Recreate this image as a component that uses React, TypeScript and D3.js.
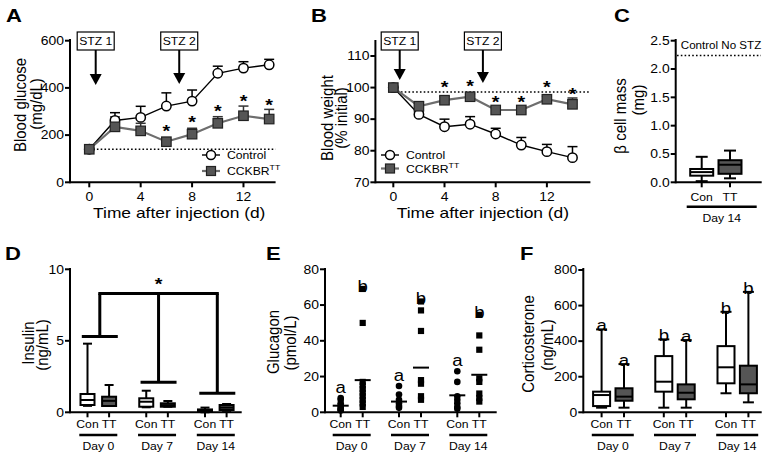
import React from 'react';
import * as d3 from 'd3';

const FONT = "'Liberation Sans', Arial, Helvetica, sans-serif";
const SX = 1.16;

// ---------- Panel A: blood glucose ----------
const days = [0, 2, 4, 6, 8, 10, 12, 14];
const dayTicks = [0, 4, 8, 12];
const glucoseControl = [140, 262, 275, 323, 344, 462, 484, 498];
const glucoseControlErr = [0, 33, 47, 56, 47, 30, 27, 23];
const glucoseTT = [140, 235, 218, 172, 204, 250, 282, 268];
const glucoseTTErr = [0, 42, 32, 10, 25, 28, 41, 41];
const glucoseStarDays = [6, 8, 10, 12, 14];
const glucoseStarValues = [235, 271, 318, 360, 344];
const glucoseBaseline = 140;
const glucoseTicks = [0, 200, 400, 600];

// ---------- Panel B: body weight ----------
const weightControl = [100, 91.5, 87.6, 88.4, 85.3, 81.8, 79.7, 77.8];
const weightControlErr = [0, 0.8, 2.4, 2.4, 1.8, 2.4, 2.3, 3.5];
const weightTT = [100, 94.1, 96.0, 97.1, 92.9, 92.9, 96.3, 94.7];
const weightTTErr = [0, 0.9, 1.2, 0.9, 0.9, 0.9, 0.9, 2.0];
const weightStarDays = [4, 6, 8, 10, 12, 14];
const weightStarValues = [101.3, 101.8, 96.6, 96.6, 101.3, 99.2];
const weightBaseline = 98.6;
const weightTicks = [70, 80, 90, 100, 110];

const stzDays = [0.5, 7];
const stzLabels = ['STZ 1', 'STZ 2'];

// ---------- Panel C: beta cell mass ----------
const genotypes = ['Con', 'TT'];
const betaCellBoxes = [
  [0.02, 0.117, 0.18, 0.235, 0.45],
  [0.07, 0.15, 0.31, 0.39, 0.56],
];
const betaCellTicks = [0, 0.5, 1.0, 1.5, 2.0, 2.5];
const betaCellNoSTZ = 2.24;

// ---------- Panel D: insulin ----------
const dayGroups = ['Day 0', 'Day 7', 'Day 14'];
const insulinCon = [
  [0.45, 0.51, 0.86, 1.28, 4.8],
  [0.35, 0.39, 0.74, 0.98, 1.51],
  [0.0, 0.03, 0.1, 0.2, 0.33],
];
const insulinTT = [
  [0.44, 0.44, 0.8, 1.09, 1.91],
  [0.39, 0.39, 0.5, 0.63, 0.79],
  [0.1, 0.16, 0.33, 0.51, 0.58],
];
const insulinTicks = [0, 5, 10];
const insulinBracketLevels = [5.3, 2.1, 1.33];
const insulinBracketTop = 8.3;
const insulinStarValue = 9.25;

// ---------- Panel E: glucagon ----------
const glucagonCon = [
  [8, 7, 5, 4, 3, 2, 1.5, 1],
  [14.7, 10, 7, 5, 3.5, 2.5],
  [23, 17, 9, 7, 5, 3, 2],
];
const glucagonTT = [
  [69, 50, 17, 15, 13, 11, 9, 7, 5, 3],
  [62, 57, 45.5, 18, 16, 9, 7],
  [54.5, 43, 35, 19, 17, 10.5, 8, 6],
];
const glucagonConMean = [3.7, 6, 9.5];
const glucagonTTMean = [18, 25, 21];
const glucagonConLetters = ['a', 'a', 'a'];
const glucagonTTLetters = ['b', 'b', 'b'];
const glucagonTicks = [0, 20, 40, 60, 80];

// ---------- Panel F: corticosterone ----------
const corticoCon = [
  [26, 35, 97, 116, 466],
  [26, 116, 172, 316, 410],
  [107, 163, 253, 372, 565],
];
const corticoTT = [
  [26, 65, 88, 135, 271],
  [26, 73, 110, 157, 406],
  [56, 107, 157, 262, 677],
];
const corticoConLetters = ['a', 'b', 'b'];
const corticoTTLetters = ['a', 'a', 'b'];
const corticoTicks = [0, 200, 400, 600, 800];

// ---------- helpers ----------
type TP = {
  x: number; y: number; size?: number; anchor?: string; weight?: any;
  rotate?: number; children?: React.ReactNode; fill?: string; dy?: string;
};
function T({ x, y, size = 12, anchor = 'middle', weight = 'normal', rotate, children, fill = '#000', dy }: TP) {
  const tr = `translate(${x},${y}) scale(${SX},1)${rotate ? ` rotate(${rotate})` : ''}`;
  return (
    <text transform={tr} fontSize={size} textAnchor={anchor as any} fontWeight={weight}
      fontFamily={FONT} fill={fill} dy={dy}>{children}</text>
  );
}

function YAxis({ scale, x, ticks, fmt, top }: any) {
  const y0 = scale.range()[0];
  return (
    <g>
      <line x1={x} x2={x} y1={y0 + 1} y2={top} stroke="#000" strokeWidth={2} />
      {ticks.map((t: number) => (
        <g key={t}>
          <line x1={x - 5} x2={x} y1={scale(t)} y2={scale(t)} stroke="#000" strokeWidth={2} />
          <T x={x - 6} y={scale(t) + 4.3} anchor="end" size={12}>{fmt(t)}</T>
        </g>
      ))}
    </g>
  );
}

function YTitle({ x1, x2, cy1, cy2, l1, l2 }: any) {
  return (
    <g>
      <T x={x1} y={cy1} rotate={-90} size={15} dy="0.35em">{l1}</T>
      <T x={x2} y={cy2} rotate={-90} size={15} dy="0.35em">{l2}</T>
    </g>
  );
}

function Star({ x, y }: any) {
  return <T x={x} y={y + 10} size={17} weight="bold">*</T>;
}

function Square({ x, y, s, fill, stroke, sw }: any) {
  return <rect x={x - s / 2} y={y - s / 2} width={s} height={s} fill={fill} stroke={stroke} strokeWidth={sw} />;
}

function LinePanel({ xs, ys, control, controlErr, tt, ttErr, starDays, starValues, baseline,
  ticks, fmt, yTop, stzTips, legend, titles, xTitleY }: any) {
  const y0 = ys.range()[0];
  const [xr0, xr1] = xs.range();
  const line = d3.line<number>().x((_, i) => xs(days[i])).y((d) => ys(d));
  return (
    <g>
      <line x1={xs(0)} x2={xr1} y1={ys(baseline)} y2={ys(baseline)} stroke="#000" strokeWidth={1.6} strokeDasharray="1.6,2.2" />
      <path d={line(control) || ''} fill="none" stroke="#000" strokeWidth={1.4} />
      <path d={line(tt) || ''} fill="none" stroke="#6e6e6e" strokeWidth={2.2} />
      {control.map((v: number, i: number) => controlErr[i] > 0 && (
        <g key={'ce' + i} stroke="#000" strokeWidth={1.5}>
          <line x1={xs(days[i])} x2={xs(days[i])} y1={ys(v)} y2={ys(v + controlErr[i])} />
          <line x1={xs(days[i]) - 5} x2={xs(days[i]) + 5} y1={ys(v + controlErr[i])} y2={ys(v + controlErr[i])} />
        </g>
      ))}
      {tt.map((v: number, i: number) => ttErr[i] > 0 && (
        <g key={'te' + i} stroke="#333" strokeWidth={1.5}>
          <line x1={xs(days[i])} x2={xs(days[i])} y1={ys(v)} y2={ys(v + ttErr[i])} />
          <line x1={xs(days[i]) - 5} x2={xs(days[i]) + 5} y1={ys(v + ttErr[i])} y2={ys(v + ttErr[i])} />
        </g>
      ))}
      {control.map((v: number, i: number) => (
        <circle key={'cm' + i} cx={xs(days[i])} cy={ys(v)} r={4.7} fill="#fff" stroke="#000" strokeWidth={1.5} />
      ))}
      {tt.map((v: number, i: number) => (
        <Square key={'tm' + i} x={xs(days[i])} y={ys(v)} s={9.5} fill="#555" stroke="#222" sw={1.2} />
      ))}
      {starDays.map((d: number, i: number) => <Star key={'s' + i} x={xs(d)} y={ys(starValues[i])} />)}
      <line x1={xr0} x2={xr1} y1={y0} y2={y0} stroke="#000" strokeWidth={2} />
      {dayTicks.map((t) => (
        <g key={'xt' + t}>
          <line x1={xs(t)} x2={xs(t)} y1={y0} y2={y0 + 5} stroke="#000" strokeWidth={2} />
          <T x={xs(t)} y={y0 + 18.7} size={12}>{t}</T>
        </g>
      ))}
      <YAxis scale={ys} x={xr0} ticks={ticks} fmt={fmt} top={yTop} />
      <T x={xs(7)} y={xTitleY} size={15}>Time after injection (d)</T>
      <YTitle {...titles} />
      {stzDays.map((d, i) => {
        const bx = xs(d);
        const tip = stzTips[i];
        return (
          <g key={'stz' + i}>
            <rect x={bx - 18.5} y={32} width={37} height={18} fill="#fff" stroke="#000" strokeWidth={1.2} />
            <T x={bx} y={45} size={10.5}>{stzLabels[i]}</T>
            <line x1={bx} x2={bx} y1={50} y2={tip - 9} stroke="#000" strokeWidth={2} />
            <path d={`M${bx - 6},${tip - 11}L${bx + 6},${tip - 11}L${bx},${tip}Z`} fill="#000" />
          </g>
        );
      })}
      <g>
        <line x1={legend.x - 9} x2={legend.x + 9} y1={legend.y1} y2={legend.y1} stroke="#000" strokeWidth={1.4} />
        <circle cx={legend.x} cy={legend.y1} r={4.5} fill="#fff" stroke="#000" strokeWidth={1.5} />
        <T x={legend.x + 16} y={legend.y1 + 4} anchor="start" size={10.5}>Control</T>
        <line x1={legend.x - 9} x2={legend.x + 9} y1={legend.y2} y2={legend.y2} stroke="#6e6e6e" strokeWidth={2.2} />
        <Square x={legend.x} y={legend.y2} s={9} fill="#555" stroke="#222" sw={1.2} />
        <T x={legend.x + 16} y={legend.y2 + 4} anchor="start" size={10.5}>
          <tspan>CCKBR</tspan><tspan dy={-5} fontSize={7.5}>TT</tspan>
        </T>
      </g>
    </g>
  );
}

function Box({ cx, ys, s, w, fill, capW }: any) {
  const [mn, q1, md, q3, mx] = s;
  return (
    <g stroke="#000" strokeWidth={2}>
      <line x1={cx} x2={cx} y1={ys(mx)} y2={ys(q3)} />
      <line x1={cx} x2={cx} y1={ys(q1)} y2={ys(mn)} />
      <line x1={cx - capW / 2} x2={cx + capW / 2} y1={ys(mx)} y2={ys(mx)} />
      <line x1={cx - capW / 2} x2={cx + capW / 2} y1={ys(mn)} y2={ys(mn)} />
      <rect x={cx - w / 2} y={ys(q3)} width={w} height={Math.max(ys(q1) - ys(q3), 1)} fill={fill} />
      <line x1={cx - w / 2} x2={cx + w / 2} y1={ys(md)} y2={ys(md)} />
    </g>
  );
}

function GroupAxis({ x0, x1, y0, positions }: any) {
  return (
    <g>
      <line x1={x0} x2={x1} y1={y0} y2={y0} stroke="#000" strokeWidth={2} />
      {positions.map((p: number, i: number) => (
        <line key={i} x1={p} x2={p} y1={y0} y2={y0 + 5} stroke="#000" strokeWidth={2} />
      ))}
    </g>
  );
}

function GroupLabels({ gx, off, labelY, lineY, dayY, half }: any) {
  return (
    <g>
      {dayGroups.map((g) => {
        const c = gx(g);
        return (
          <g key={g}>
            <T x={c - off} y={labelY} size={10.5}>Con</T>
            <T x={c + off} y={labelY} size={10.5}>TT</T>
            <line x1={c - half} x2={c + half} y1={lineY} y2={lineY} stroke="#000" strokeWidth={2.6} />
            <T x={c} y={dayY} size={10.5}>{g}</T>
          </g>
        );
      })}
    </g>
  );
}

const fmt0 = (t: number) => String(t);

export default function App() {
  const xA = d3.scaleLinear().domain([-1.5, 14.5]).range([70, 275.6]);
  const yA = d3.scaleLinear().domain([0, 600]).range([182.3, 40.7]);
  const xB = d3.scaleLinear().domain([-1.4, 15.4]).range([375.4, 590.4]);
  const yB = d3.scaleLinear().domain([70, 110]).range([182.3, 56]);
  const xC = d3.scalePoint<string>().domain(genotypes).range([701.7, 730]);
  const yC = d3.scaleLinear().domain([0, 2.5]).range([182.3, 40.7]);
  const gD = d3.scalePoint<string>().domain(dayGroups).range([98.3, 215.8]);
  const yD = d3.scaleLinear().domain([0, 10]).range([412.3, 269.3]);
  const offD = 10.8;
  const gE = d3.scalePoint<string>().domain(dayGroups).range([351.7, 468.3]);
  const yE = d3.scaleLinear().domain([0, 80]).range([412.3, 269.3]);
  const offE = 11;
  const gF = d3.scalePoint<string>().domain(dayGroups).range([612.8, 737.2]);
  const yF = d3.scaleLinear().domain([0, 800]).range([412.3, 270]);
  const offF = 11.2;

  const bracketX = dayGroups.map((g) => gD(g)! + 1.5);

  return (
    <svg width={773} height={460} viewBox="0 0 773 460"
      style={{ position: 'absolute', left: 0, top: 0, background: '#fff' }}>
      <rect x={0} y={0} width={773} height={460} fill="#fff" />

      <T x={6} y={22} size={19} weight="bold" anchor="start">A</T>
      <T x={311} y={22} size={19} weight="bold" anchor="start">B</T>
      <T x={614} y={22} size={19} weight="bold" anchor="start">C</T>
      <T x={5} y={260} size={19} weight="bold" anchor="start">D</T>
      <T x={266} y={260} size={19} weight="bold" anchor="start">E</T>
      <T x={520} y={260} size={19} weight="bold" anchor="start">F</T>

      <LinePanel xs={xA} ys={yA} control={glucoseControl} controlErr={glucoseControlErr}
        tt={glucoseTT} ttErr={glucoseTTErr} starDays={glucoseStarDays} starValues={glucoseStarValues}
        baseline={glucoseBaseline} ticks={glucoseTicks} fmt={fmt0} yTop={39}
        stzTips={[85, 84]} legend={{ x: 211, y1: 155, y2: 171 }}
        titles={{ x1: 20, x2: 36, cy1: 105, cy2: 104, l1: 'Blood glucose', l2: '(mg/dL)' }}
        xTitleY={218} />

      <LinePanel xs={xB} ys={yB} control={weightControl} controlErr={weightControlErr}
        tt={weightTT} ttErr={weightTTErr} starDays={weightStarDays} starValues={weightStarValues}
        baseline={weightBaseline} ticks={weightTicks} fmt={fmt0} yTop={40}
        stzTips={[80, 83]} legend={{ x: 390, y1: 155, y2: 168.5 }}
        titles={{ x1: 327, x2: 341, cy1: 118, cy2: 118, l1: 'Blood weight', l2: '(% initial)' }}
        xTitleY={218} />

      <g>
        <line x1={677} x2={761} y1={yC(betaCellNoSTZ)} y2={yC(betaCellNoSTZ)} stroke="#000" strokeWidth={1.6} strokeDasharray="1.6,2.2" />
        <T x={721} y={49} size={10}>Control No STZ</T>
        {genotypes.map((g, i) => (
          <Box key={g} cx={xC(g)} ys={yC} s={betaCellBoxes[i]} w={23} capW={12} fill={i === 0 ? '#fff' : '#555'} />
        ))}
        <GroupAxis x0={675.7} x1={761.7} y0={182.3} positions={genotypes.map((g) => xC(g))} />
        <YAxis scale={yC} x={675.7} ticks={betaCellTicks} fmt={d3.format('.1f')} top={39} />
        {genotypes.map((g) => <T key={g} x={xC(g)!} y={201} size={10.5}>{g}</T>)}
        <line x1={686.7} x2={756.7} y1={206.7} y2={206.7} stroke="#000" strokeWidth={2.6} />
        <T x={721.7} y={222} size={10.5}>Day 14</T>
        <YTitle x1={620} x2={638} cy1={116} cy2={100} l1="β cell mass" l2="(mg)" />
      </g>

      <g>
        {dayGroups.map((g, i) => (
          <g key={g}>
            <Box cx={gD(g)! - offD} ys={yD} s={insulinCon[i]} w={14} capW={9} fill="#fff" />
            <Box cx={gD(g)! + offD} ys={yD} s={insulinTT[i]} w={14} capW={9} fill="#555" />
          </g>
        ))}
        <g stroke="#000" strokeWidth={3}>
          {bracketX.map((bx, i) => (
            <g key={i}>
              <line x1={bx - 18} x2={bx + 18} y1={yD(insulinBracketLevels[i])} y2={yD(insulinBracketLevels[i])} />
              <line x1={bx} x2={bx} y1={yD(insulinBracketLevels[i])} y2={yD(insulinBracketTop)} />
            </g>
          ))}
          <line x1={bracketX[0] - 1.5} x2={bracketX[2] + 1.5} y1={yD(insulinBracketTop)} y2={yD(insulinBracketTop)} />
        </g>
        <Star x={bracketX[1]} y={yD(insulinStarValue)} />
        <GroupAxis x0={70} x1={241.7} y0={412.3}
          positions={dayGroups.flatMap((g) => [gD(g)! - offD, gD(g)! + offD])} />
        <YAxis scale={yD} x={70} ticks={insulinTicks} fmt={fmt0} top={268} />
        <GroupLabels gx={gD} off={offD} labelY={428} lineY={435} dayY={450} half={19} />
        <YTitle x1={28} x2={42} cy1={343} cy2={345} l1="Insulin" l2="(ng/mL)" />
      </g>

      <g>
        {dayGroups.map((g, i) => {
          const cx = gE(g)! - offE;
          const tx = gE(g)! + offE;
          return (
            <g key={g}>
              {glucagonCon[i].map((v, j) => <circle key={'c' + j} cx={cx} cy={yE(v)} r={3.3} fill="#000" />)}
              {glucagonTT[i].map((v, j) => <Square key={'t' + j} x={tx} y={yE(v)} s={6.2} fill="#000" stroke="none" sw={0} />)}
              <line x1={cx - 8} x2={cx + 8} y1={yE(glucagonConMean[i])} y2={yE(glucagonConMean[i])} stroke="#000" strokeWidth={2} />
              <line x1={tx - 8} x2={tx + 8} y1={yE(glucagonTTMean[i])} y2={yE(glucagonTTMean[i])} stroke="#000" strokeWidth={2} />
              <T x={cx} y={yE(d3.max(glucagonCon[i])!) - 5} size={16}>{glucagonConLetters[i]}</T>
              <T x={tx} y={yE(d3.max(glucagonTT[i])!) + 3} size={16}>{glucagonTTLetters[i]}</T>
            </g>
          );
        })}
        <GroupAxis x0={325} x1={496.7} y0={412.3}
          positions={dayGroups.flatMap((g) => [gE(g)! - offE, gE(g)! + offE])} />
        <YAxis scale={yE} x={325} ticks={glucagonTicks} fmt={fmt0} top={268} />
        <GroupLabels gx={gE} off={offE} labelY={428} lineY={435} dayY={450} half={19} />
        <YTitle x1={273} x2={290} cy1={342} cy2={343} l1="Glucagon" l2="(pmol/L)" />
      </g>

      <g>
        {dayGroups.map((g, i) => (
          <g key={g}>
            <Box cx={gF(g)! - offF} ys={yF} s={corticoCon[i]} w={17} capW={11} fill="#fff" />
            <Box cx={gF(g)! + offF} ys={yF} s={corticoTT[i]} w={17} capW={11} fill="#555" />
            <T x={gF(g)! - offF} y={yF(corticoCon[i][4]) + 2} size={16}>{corticoConLetters[i]}</T>
            <T x={gF(g)! + offF} y={yF(corticoTT[i][4]) + 2} size={16}>{corticoTTLetters[i]}</T>
          </g>
        ))}
        <GroupAxis x0={583.3} x1={761.7} y0={412.3}
          positions={dayGroups.flatMap((g) => [gF(g)! - offF, gF(g)! + offF])} />
        <YAxis scale={yF} x={583.3} ticks={corticoTicks} fmt={fmt0} top={268} />
        <GroupLabels gx={gF} off={offF} labelY={428} lineY={435} dayY={450} half={21} />
        <YTitle x1={528} x2={547} cy1={344} cy2={345} l1="Corticosterone" l2="(ng/mL)" />
      </g>
    </svg>
  );
}
